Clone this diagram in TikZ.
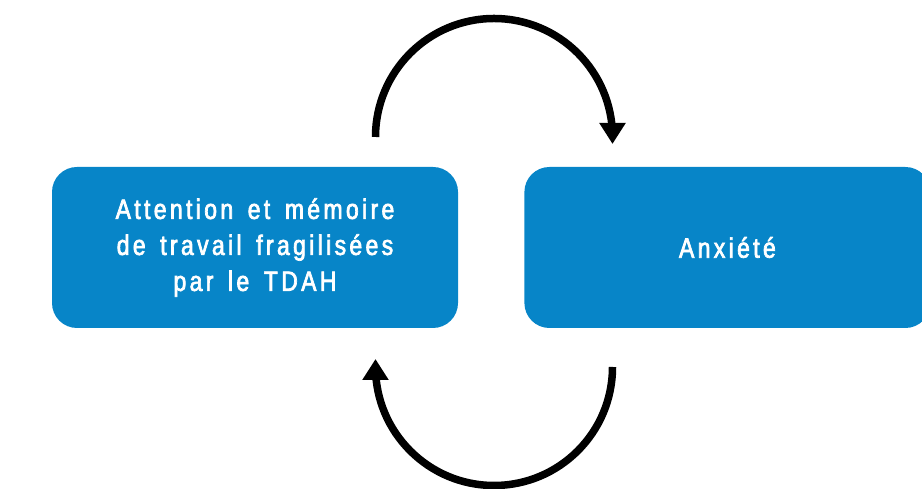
\documentclass[tikz,border=0pt]{standalone}
\usepackage{fontspec}
\usepackage{tikz}
\usetikzlibrary{arrows.meta,positioning}
\newfontfamily\boxfont{Liberation Sans}[FakeStretch=0.82,FakeBold=2.5,LetterSpace=12,WordSpace=1.5]
\definecolor{tdahblue}{RGB}{7,133,200}

\begin{document}
\begin{tikzpicture}[x=1pt,y=1pt,
	box/.style={rectangle,rounded corners=25pt,fill=tdahblue,text=white,
		minimum width=406pt,minimum height=161pt,inner sep=0pt,align=center,
		font=\boxfont\fontsize{28}{36}\selectfont},
	cycle/.style={line width=7.5pt,-{Triangle[length=21pt,width=25pt]}}]
	\useasboundingbox (0,0) rectangle (922,489);
	
	\node[box] (attn) at (255,241.5) {Attention et mémoire\\de travail fragilisées\\par le TDAH};
	\node[box] (anx) [right=66pt of attn] {Anxiété};
	
	\coordinate (t1) at (375.5,352);
	\coordinate (b1) at (612.5,122);
	
	\draw[cycle] (t1) arc[start angle=180,end angle=0,radius=118.5] -- ++(0,-7);
	\draw[cycle] (b1) arc[start angle=0,end angle=-180,radius=118.5] -- ++(0,8);
\end{tikzpicture}
\end{document}
